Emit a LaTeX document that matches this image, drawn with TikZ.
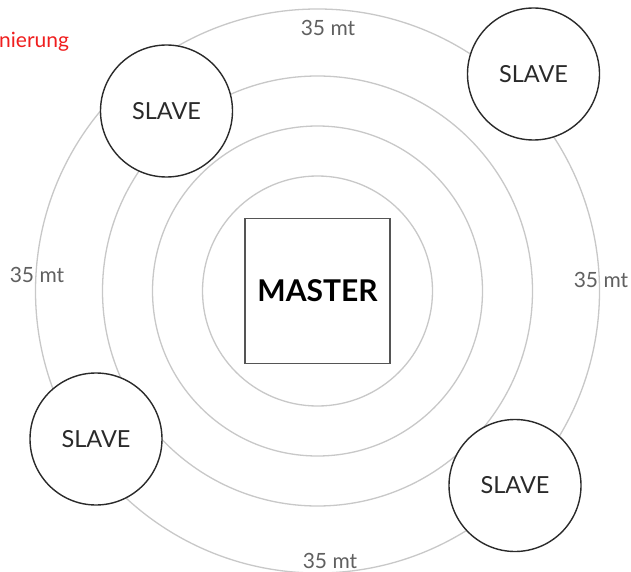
\documentclass[tikz,border=0pt]{standalone}
\usepackage{fontspec}
\setmainfont{Lato}
\definecolor{ring}{HTML}{C8C8C8}
\definecolor{ink}{HTML}{2A2A2A}
\definecolor{lbl}{HTML}{606060}
\definecolor{redtxt}{HTML}{F01E1E}
\begin{document}
\begin{tikzpicture}[x=1pt,y=-1pt,
  ringline/.style={draw=ring,line width=1.3pt},
  slavenode/.style={circle,draw=ink,line width=1.4pt,fill=white,minimum size=132pt,inner sep=0pt,font=\fontsize{23.5}{23.5}\selectfont,text=ink},
  masternode/.style={rectangle,draw=ink!80,line width=1.3pt,fill=white,minimum width=145pt,minimum height=145pt,inner sep=0pt,font=\fontsize{30}{30}\selectfont\bfseries,text=black},
  distlabel/.style={font=\fontsize{21}{21}\selectfont,text=lbl,inner sep=0pt}]
\useasboundingbox (0,0) rectangle (631,572);
\fill[white] (0,0) rectangle (631,572);
\coordinate (c) at (317.5,291);
\draw[ringline] (c) circle[radius=115];
\draw[ringline] (c) circle[radius=165];
\draw[ringline] (c) circle[radius=215];
\draw[ringline] (c) circle[radius=282];
\node[masternode] (master) at (c) {MASTER};
\node[slavenode] (s1) at (166.5,111) {SLAVE};
\node[slavenode] (s2) at (533.5,74) {SLAVE};
\node[slavenode] (s3) at (96,439) {SLAVE};
\node[slavenode] (s4) at (515,485.5) {SLAVE};
\node[distlabel] (ltop) at (328,28) {35 mt};
\node[distlabel] (lleft) at (37,275) {35 mt};
\node[distlabel] (lright) at (601,280) {35 mt};
\node[distlabel] (lbot) at (330,561) {35 mt};
\node[anchor=west,inner sep=0pt,font=\fontsize{21}{21}\selectfont,text=redtxt] (red) at (-1,42) {nierung};
\end{tikzpicture}
\end{document}
